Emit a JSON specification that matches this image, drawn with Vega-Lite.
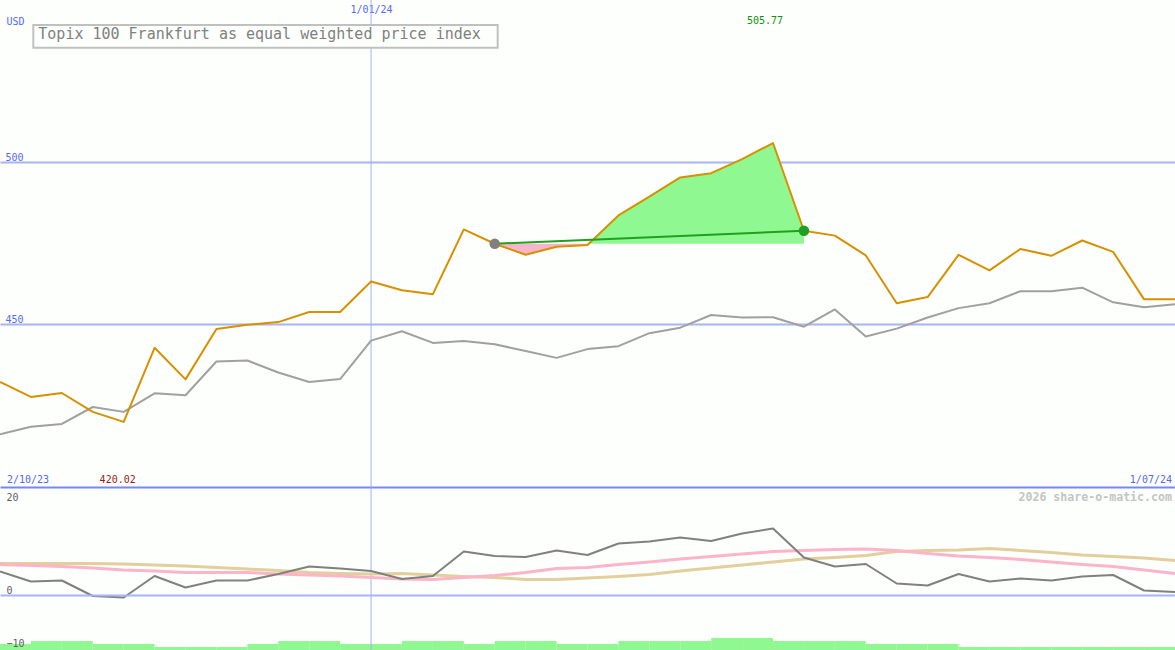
{
  "$schema": "https://vega.github.io/schema/vega-lite/v6.json",
  "background": "#fcfffc",
  "padding": 0,
  "spacing": 0,
  "bounds": "flush",
  "config": {
    "view": {"stroke": null},
    "font": "DejaVu Sans Mono",
    "axis": {"minExtent": 0, "maxExtent": 0, "labelFont": "DejaVu Sans Mono", "titleFont": "DejaVu Sans Mono"}
  },
  "datasets": {
    "series": [
      {"date": "2023-10-09", "price": 432.3, "bench": 416.2, "osc": 4.7, "ma1": 6.1, "ma2": 6.3},
      {"date": "2023-10-16", "price": 427.7, "bench": 418.5, "osc": 2.7, "ma1": 5.9, "ma2": 6.3},
      {"date": "2023-10-23", "price": 428.9, "bench": 419.4, "osc": 2.9, "ma1": 5.7, "ma2": 6.3},
      {"date": "2023-10-30", "price": 423.1, "bench": 424.6, "osc": -0.2, "ma1": 5.4, "ma2": 6.3},
      {"date": "2023-11-06", "price": 420.02, "bench": 423.1, "osc": -0.5, "ma1": 5.0, "ma2": 6.2},
      {"date": "2023-11-13", "price": 442.8, "bench": 428.8, "osc": 3.8, "ma1": 4.8, "ma2": 6.0},
      {"date": "2023-11-20", "price": 433.1, "bench": 428.2, "osc": 1.5, "ma1": 4.5, "ma2": 5.8},
      {"date": "2023-11-27", "price": 448.6, "bench": 438.6, "osc": 2.9, "ma1": 4.5, "ma2": 5.5},
      {"date": "2023-12-04", "price": 449.9, "bench": 438.9, "osc": 2.9, "ma1": 4.5, "ma2": 5.2},
      {"date": "2023-12-11", "price": 450.7, "bench": 435.2, "osc": 4.2, "ma1": 4.2, "ma2": 4.9},
      {"date": "2023-12-18", "price": 453.8, "bench": 432.3, "osc": 5.7, "ma1": 4.0, "ma2": 4.5},
      {"date": "2023-12-25", "price": 453.8, "bench": 433.2, "osc": 5.3, "ma1": 3.8, "ma2": 4.3},
      {"date": "2024-01-01", "price": 463.2, "bench": 445.0, "osc": 4.8, "ma1": 3.5, "ma2": 4.2},
      {"date": "2024-01-08", "price": 460.5, "bench": 447.9, "osc": 3.2, "ma1": 3.2, "ma2": 4.3},
      {"date": "2024-01-15", "price": 459.3, "bench": 444.3, "osc": 3.8, "ma1": 3.1, "ma2": 4.0},
      {"date": "2024-01-22", "price": 479.2, "bench": 444.9, "osc": 8.7, "ma1": 3.5, "ma2": 3.7},
      {"date": "2024-01-29", "price": 474.8, "bench": 443.9, "osc": 7.8, "ma1": 3.9, "ma2": 3.5},
      {"date": "2024-02-05", "price": 471.4, "bench": 441.8, "osc": 7.6, "ma1": 4.5, "ma2": 3.1},
      {"date": "2024-02-12", "price": 473.9, "bench": 439.7, "osc": 8.9, "ma1": 5.3, "ma2": 3.1},
      {"date": "2024-02-19", "price": 474.4, "bench": 442.4, "osc": 8.0, "ma1": 5.5, "ma2": 3.4},
      {"date": "2024-02-26", "price": 483.5, "bench": 443.3, "osc": 10.3, "ma1": 6.1, "ma2": 3.7},
      {"date": "2024-03-04", "price": 489.3, "bench": 447.3, "osc": 10.7, "ma1": 6.6, "ma2": 4.1},
      {"date": "2024-03-11", "price": 495.2, "bench": 449.0, "osc": 11.5, "ma1": 7.2, "ma2": 4.8},
      {"date": "2024-03-18", "price": 496.5, "bench": 452.9, "osc": 10.8, "ma1": 7.7, "ma2": 5.4},
      {"date": "2024-03-25", "price": 500.8, "bench": 452.1, "osc": 12.3, "ma1": 8.2, "ma2": 6.0},
      {"date": "2024-04-01", "price": 505.77, "bench": 452.2, "osc": 13.3, "ma1": 8.7, "ma2": 6.6},
      {"date": "2024-04-08", "price": 478.8, "bench": 449.3, "osc": 7.5, "ma1": 8.9, "ma2": 7.2},
      {"date": "2024-04-15", "price": 477.3, "bench": 454.6, "osc": 5.7, "ma1": 9.1, "ma2": 7.5},
      {"date": "2024-04-22", "price": 471.2, "bench": 446.3, "osc": 6.2, "ma1": 9.2, "ma2": 7.9},
      {"date": "2024-04-29", "price": 456.5, "bench": 448.7, "osc": 2.3, "ma1": 8.9, "ma2": 8.7},
      {"date": "2024-05-06", "price": 458.4, "bench": 452.1, "osc": 1.9, "ma1": 8.3, "ma2": 8.9},
      {"date": "2024-05-13", "price": 471.4, "bench": 455.0, "osc": 4.2, "ma1": 7.8, "ma2": 9.0},
      {"date": "2024-05-20", "price": 466.6, "bench": 456.5, "osc": 2.7, "ma1": 7.5, "ma2": 9.3},
      {"date": "2024-05-27", "price": 473.2, "bench": 460.2, "osc": 3.3, "ma1": 7.1, "ma2": 8.9},
      {"date": "2024-06-03", "price": 471.1, "bench": 460.2, "osc": 2.9, "ma1": 6.6, "ma2": 8.5},
      {"date": "2024-06-10", "price": 475.8, "bench": 461.3, "osc": 3.7, "ma1": 6.1, "ma2": 8.0},
      {"date": "2024-06-17", "price": 472.3, "bench": 456.8, "osc": 4.0, "ma1": 5.7, "ma2": 7.7},
      {"date": "2024-06-24", "price": 457.7, "bench": 455.3, "osc": 0.9, "ma1": 5.0, "ma2": 7.4},
      {"date": "2024-07-01", "price": 457.7, "bench": 456.2, "osc": 0.6, "ma1": 4.3, "ma2": 6.9}
    ],
    "trend": [
      {"date": "2024-01-29", "price": 474.8, "role": "start"},
      {"date": "2024-04-08", "price": 478.8, "role": "end"}
    ],
    "marker": [
      {"date": "2024-01-01"}
    ],
    "bars": [
      {"start": "2023-10-09", "end": "2023-10-16", "vol": 2},
      {"start": "2023-10-16", "end": "2023-10-23", "vol": 3},
      {"start": "2023-10-23", "end": "2023-10-30", "vol": 3},
      {"start": "2023-10-30", "end": "2023-11-06", "vol": 2},
      {"start": "2023-11-06", "end": "2023-11-13", "vol": 2},
      {"start": "2023-11-13", "end": "2023-11-20", "vol": 1},
      {"start": "2023-11-20", "end": "2023-11-27", "vol": 1},
      {"start": "2023-11-27", "end": "2023-12-04", "vol": 1},
      {"start": "2023-12-04", "end": "2023-12-11", "vol": 2},
      {"start": "2023-12-11", "end": "2023-12-18", "vol": 3},
      {"start": "2023-12-18", "end": "2023-12-25", "vol": 3},
      {"start": "2023-12-25", "end": "2024-01-01", "vol": 2},
      {"start": "2024-01-01", "end": "2024-01-08", "vol": 2},
      {"start": "2024-01-08", "end": "2024-01-15", "vol": 3},
      {"start": "2024-01-15", "end": "2024-01-22", "vol": 3},
      {"start": "2024-01-22", "end": "2024-01-29", "vol": 2},
      {"start": "2024-01-29", "end": "2024-02-05", "vol": 3},
      {"start": "2024-02-05", "end": "2024-02-12", "vol": 3},
      {"start": "2024-02-12", "end": "2024-02-19", "vol": 2},
      {"start": "2024-02-19", "end": "2024-02-26", "vol": 2},
      {"start": "2024-02-26", "end": "2024-03-04", "vol": 3},
      {"start": "2024-03-04", "end": "2024-03-11", "vol": 3},
      {"start": "2024-03-11", "end": "2024-03-18", "vol": 3},
      {"start": "2024-03-18", "end": "2024-03-25", "vol": 4},
      {"start": "2024-03-25", "end": "2024-04-01", "vol": 4},
      {"start": "2024-04-01", "end": "2024-04-08", "vol": 3},
      {"start": "2024-04-08", "end": "2024-04-15", "vol": 3},
      {"start": "2024-04-15", "end": "2024-04-22", "vol": 3},
      {"start": "2024-04-22", "end": "2024-04-29", "vol": 2},
      {"start": "2024-04-29", "end": "2024-05-06", "vol": 2},
      {"start": "2024-05-06", "end": "2024-05-13", "vol": 2},
      {"start": "2024-05-13", "end": "2024-05-20", "vol": 1},
      {"start": "2024-05-20", "end": "2024-05-27", "vol": 1},
      {"start": "2024-05-27", "end": "2024-06-03", "vol": 1},
      {"start": "2024-06-03", "end": "2024-06-10", "vol": 1},
      {"start": "2024-06-10", "end": "2024-06-17", "vol": 1},
      {"start": "2024-06-17", "end": "2024-06-24", "vol": 1},
      {"start": "2024-06-24", "end": "2024-07-01", "vol": 1}
    ]
  },
  "vconcat": [
    {
      "width": 1175,
      "height": 487,
      "encoding": {
        "x": {
          "field": "date", "type": "temporal", "title": null,
          "scale": {"type": "utc", "nice": false, "domain": [{"year": 2023, "month": 10, "date": 9, "utc": true}, {"year": 2024, "month": 7, "date": 1, "utc": true}]},
          "axis": {"orient": "top", "values": [{"year": 2024, "month": 1, "date": 1, "utc": true}], "format": "%-d/%m/%y", "grid": false, "domain": false, "ticks": false, "labelPadding": -14, "labelColor": "#5a68f0", "labelFontSize": 10, "title": null}
        }
      },
      "layer": [
        {
          "data": {"name": "marker"},
          "mark": {"type": "rule", "color": "#a0b0f4", "strokeWidth": 1, "clip": true},
          "encoding": {}
        },
        {
          "data": {"name": "series"},
          "transform": [{"filter": {"field": "date", "range": [{"year": 2024, "month": 1, "date": 29, "utc": true}, {"year": 2024, "month": 2, "date": 19, "utc": true}]}}],
          "mark": {"type": "area", "color": "#f8b4c8", "opacity": 1},
          "encoding": {
            "y": {"field": "price", "type": "quantitative", "scale": {"domain": [400, 549.75], "nice": false, "zero": false}},
            "y2": {"datum": 474.8}
          }
        },
        {
          "data": {"name": "series"},
          "transform": [{"filter": {"field": "date", "range": [{"year": 2024, "month": 2, "date": 19, "utc": true}, {"year": 2024, "month": 4, "date": 8, "utc": true}]}}],
          "mark": {"type": "area", "color": "#90f890", "opacity": 1},
          "encoding": {
            "y": {"field": "price", "type": "quantitative", "scale": {"domain": [400, 549.75], "nice": false, "zero": false}},
            "y2": {"datum": 474.8}
          }
        },
        {
          "data": {"name": "series"},
          "mark": {"type": "line", "color": "#a0a0a0", "strokeWidth": 2, "strokeJoin": "round", "clip": true},
          "encoding": {
            "y": {"field": "bench", "type": "quantitative", "scale": {"domain": [400, 549.75], "nice": false, "zero": false}}
          }
        },
        {
          "data": {"name": "series"},
          "mark": {"type": "line", "color": "#d89000", "strokeWidth": 2, "strokeJoin": "round", "clip": true},
          "encoding": {
            "y": {
              "field": "price", "type": "quantitative",
              "scale": {"domain": [400, 549.75], "nice": false, "zero": false},
              "axis": {"orient": "left", "values": [450, 500], "grid": true, "gridColor": "#a8b4f4", "gridWidth": 2, "domain": false, "ticks": false, "labelAlign": "left", "labelBaseline": "alphabetic", "labelPadding": -5, "labelOffset": -1.5, "labelColor": "#5a68f0", "labelFontSize": 10, "title": "USD", "titleAngle": 0, "titleX": 6, "titleY": 24, "titleAlign": "left", "titleBaseline": "alphabetic", "titleColor": "#5a68f0", "titleFontSize": 10, "titleFontWeight": "normal"}
            }
          }
        },
        {
          "data": {"name": "trend"},
          "mark": {"type": "line", "color": "#20a020", "strokeWidth": 2, "strokeJoin": "round"},
          "encoding": {
            "y": {"field": "price", "type": "quantitative", "scale": {"domain": [400, 549.75], "nice": false, "zero": false}}
          }
        },
        {
          "data": {"name": "trend"},
          "mark": {"type": "circle", "size": 110, "opacity": 1},
          "encoding": {
            "y": {"field": "price", "type": "quantitative", "scale": {"domain": [400, 549.75], "nice": false, "zero": false}},
            "color": {"field": "role", "type": "nominal", "scale": {"domain": ["start", "end"], "range": ["#808080", "#20a020"]}, "legend": null}
          }
        },
        {
          "data": {"values": [{"date": "2023-10-16T13:00:00Z", "date2": "2024-01-29T16:00:00Z", "top": 542.06, "bottom": 535.08}]},
          "mark": {"type": "rect", "fill": "#fcfffc", "stroke": "#c0c0c0", "strokeWidth": 2},
          "encoding": {
            "x2": {"field": "date2"},
            "y": {"field": "top", "type": "quantitative", "scale": {"domain": [400, 549.75], "nice": false, "zero": false}},
            "y2": {"field": "bottom"}
          }
        },
        {
          "data": {"values": [{"date": "2023-10-17T16:00:00Z", "level": 537.85, "text": "Topix 100 Frankfurt as equal weighted price index"}]},
          "mark": {"type": "text", "align": "left", "baseline": "alphabetic", "fontSize": 15, "color": "#808080", "font": "DejaVu Sans Mono"},
          "encoding": {
            "y": {"field": "level", "type": "quantitative", "scale": {"domain": [400, 549.75], "nice": false, "zero": false}},
            "text": {"field": "text"}
          }
        },
        {
          "data": {"values": [{"date": "2024-04-01", "level": 542.37, "text": "505.77"}]},
          "mark": {"type": "text", "align": "center", "baseline": "alphabetic", "dx": -8, "fontSize": 10, "color": "#109010", "font": "DejaVu Sans Mono"},
          "encoding": {
            "y": {"field": "level", "type": "quantitative", "scale": {"domain": [400, 549.75], "nice": false, "zero": false}},
            "text": {"field": "text"}
          }
        },
        {
          "data": {"values": [{"date": "2023-11-06", "level": 401.23, "text": "420.02"}]},
          "mark": {"type": "text", "align": "center", "baseline": "alphabetic", "dx": -6, "fontSize": 10, "color": "#a01818", "font": "DejaVu Sans Mono"},
          "encoding": {
            "y": {"field": "level", "type": "quantitative", "scale": {"domain": [400, 549.75], "nice": false, "zero": false}},
            "text": {"field": "text"}
          }
        },
        {
          "data": {"values": [{"date": "2023-10-09", "level": 401.23, "text": "2/10/23"}]},
          "mark": {"type": "text", "align": "left", "baseline": "alphabetic", "dx": 7, "fontSize": 10, "color": "#5a68f0", "font": "DejaVu Sans Mono"},
          "encoding": {
            "y": {"field": "level", "type": "quantitative", "scale": {"domain": [400, 549.75], "nice": false, "zero": false}},
            "text": {"field": "text"}
          }
        },
        {
          "data": {"values": [{"date": "2024-07-01", "level": 401.23, "text": "1/07/24"}]},
          "mark": {"type": "text", "align": "right", "baseline": "alphabetic", "dx": -3, "fontSize": 10, "color": "#5a68f0", "font": "DejaVu Sans Mono"},
          "encoding": {
            "y": {"field": "level", "type": "quantitative", "scale": {"domain": [400, 549.75], "nice": false, "zero": false}},
            "text": {"field": "text"}
          }
        }
      ]
    },
    {
      "width": 1175,
      "height": 163,
      "resolve": {"scale": {"y": "independent"}},
      "layer": [
        {
          "data": {"name": "bars"},
          "mark": {"type": "rect", "color": "#90f890"},
          "encoding": {
            "x": {
              "field": "start", "type": "temporal", "title": null,
              "scale": {"type": "utc", "nice": false, "domain": [{"year": 2023, "month": 10, "date": 9, "utc": true}, {"year": 2024, "month": 7, "date": 1, "utc": true}]},
              "axis": {"orient": "top", "values": [{"year": 2024, "month": 1, "date": 1, "utc": true}], "grid": false, "labels": false, "ticks": false, "domain": true, "domainColor": "#7888f0", "domainWidth": 2, "title": null}
            },
            "x2": {"field": "end"},
            "y": {"field": "vol", "type": "quantitative", "axis": null, "scale": {"domain": [0, 54.33], "nice": false, "zero": true}},
            "y2": {"datum": 0}
          }
        },
        {
          "encoding": {
            "x": {
              "field": "date", "type": "temporal", "title": null,
              "scale": {"type": "utc", "nice": false, "domain": [{"year": 2023, "month": 10, "date": 9, "utc": true}, {"year": 2024, "month": 7, "date": 1, "utc": true}]},
              "axis": {"orient": "top", "values": [{"year": 2024, "month": 1, "date": 1, "utc": true}], "grid": false, "labels": false, "ticks": false, "domain": true, "domainColor": "#7888f0", "domainWidth": 2, "title": null}
            }
          },
          "layer": [
            {
              "data": {"name": "marker"},
              "mark": {"type": "rule", "color": "#a0b0f4", "strokeWidth": 1, "clip": true},
              "encoding": {}
            },
            {
              "data": {"name": "series"},
              "mark": {"type": "line", "color": "#e2cf9c", "strokeWidth": 3, "strokeJoin": "round", "clip": true},
              "encoding": {
                "y": {"field": "ma2", "type": "quantitative", "scale": {"domain": [-11, 21.6], "nice": false, "zero": false}}
              }
            },
            {
              "data": {"name": "series"},
              "mark": {"type": "line", "color": "#fcb4c8", "strokeWidth": 3, "strokeJoin": "round", "clip": true},
              "encoding": {
                "y": {"field": "ma1", "type": "quantitative", "scale": {"domain": [-11, 21.6], "nice": false, "zero": false}}
              }
            },
            {
              "data": {"name": "series"},
              "mark": {"type": "line", "color": "#808080", "strokeWidth": 2, "strokeJoin": "round", "clip": true},
              "encoding": {
                "y": {
                  "field": "osc", "type": "quantitative",
                  "scale": {"domain": [-11, 21.6], "nice": false, "zero": false},
                  "axis": {"orient": "left", "zindex": 1, "values": [20, 0, -10], "grid": true, "gridColor": "#a8b4f4", "gridWidth": 2, "gridOpacity": {"condition": {"test": "datum.value === 0", "value": 1}, "value": 0}, "domain": false, "ticks": false, "labelAlign": "left", "labelBaseline": "alphabetic", "labelPadding": -6, "labelOffset": {"condition": [{"test": "datum.value === 20", "value": 5}, {"test": "datum.value === 0", "value": -2}], "value": 1}, "labelColor": "#606060", "labelFontSize": 10, "title": null}
                }
              }
            },
            {
              "data": {"values": [{"date": "2024-07-01", "level": 18.9, "text": "2026 share-o-matic.com"}]},
              "mark": {"type": "text", "align": "right", "baseline": "alphabetic", "dx": -3, "fontSize": 11.6, "fontWeight": "bold", "color": "#c4c4c4", "font": "DejaVu Sans Mono"},
              "encoding": {
                "y": {"field": "level", "type": "quantitative", "scale": {"domain": [-11, 21.6], "nice": false, "zero": false}},
                "text": {"field": "text"}
              }
            }
          ]
        }
      ]
    }
  ]
}
